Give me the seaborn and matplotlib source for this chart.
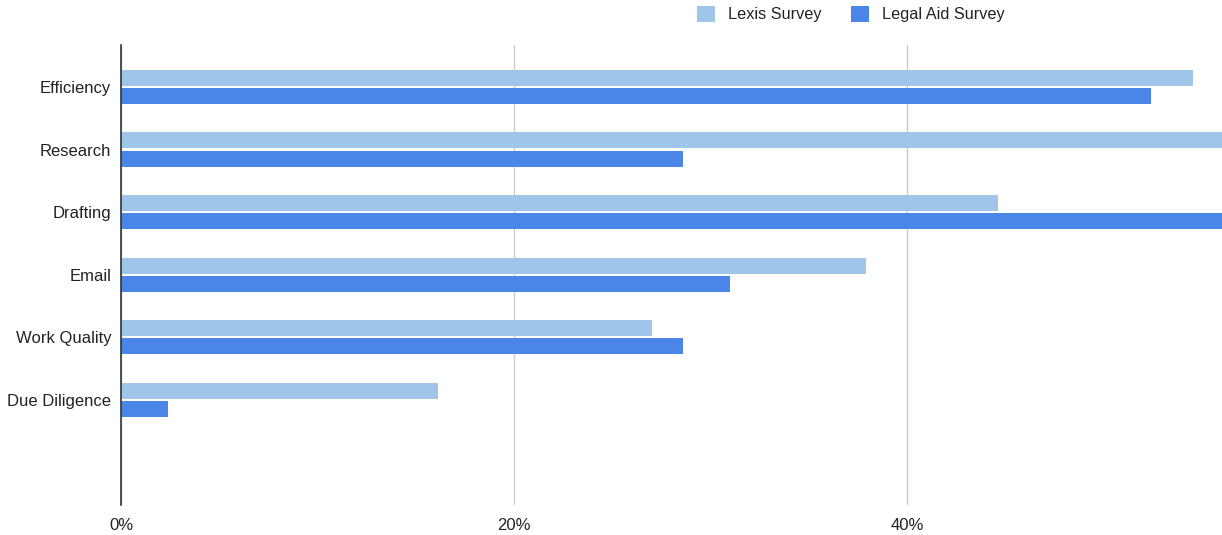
import matplotlib
matplotlib.use("Agg")
import matplotlib.pyplot as plt
import seaborn as sns
import pandas as pd
from matplotlib.ticker import FuncFormatter

categories = ["Efficiency", "Research", "Drafting", "Email", "Work Quality", "Due Diligence"]
lexis = [54.5, 58.0, 44.6, 37.9, 27.0, 16.1]
legal_aid = [52.4, 28.6, 58.0, 31.0, 28.6, 2.4]
series_names = ["Lexis Survey", "Legal Aid Survey"]
colors = ["#9fc5e8", "#4a86e8"]

df = pd.DataFrame({
    "Category": categories * 2,
    "Value": lexis + legal_aid,
    "Survey": [series_names[0]] * len(categories) + [series_names[1]] * len(categories),
})

sns.set_style("white")
plt.rcParams["font.family"] = ["Liberation Sans", "DejaVu Sans"]

fig = plt.figure(figsize=(12.22, 5.35), dpi=100)
ax = fig.add_axes([121 / 1222, 1 - 505 / 535, 1 - 121 / 1222, (505 - 45) / 535])

sns.barplot(data=df, y="Category", x="Value", hue="Survey", orient="h",
            palette=dict(zip(series_names, colors)), width=0.58, gap=0.12,
            saturation=1, ax=ax, legend=True, errorbar=None, linewidth=0)

ax.set_xlim(0, 56)
ax.set_ylim(6.68, -0.67)
ax.set_xticks([0, 20, 40])
ax.xaxis.set_major_formatter(FuncFormatter(lambda v, p: f"{v:.0f}%"))
ax.grid(axis="x", color="#cccccc", linewidth=1)
ax.set_axisbelow(True)
for s in ["top", "right", "bottom"]:
    ax.spines[s].set_visible(False)
ax.spines["left"].set_color("#333333")
ax.spines["left"].set_linewidth(1.2)
ax.set_xlabel("")
ax.set_ylabel("")
ax.tick_params(axis="both", length=0, labelsize=12, colors="#222222")
ax.tick_params(axis="x", pad=9)
ax.tick_params(axis="y", pad=7)

handles, labels = ax.get_legend_handles_labels()
ax.get_legend().remove()
fig.legend(handles, labels, loc="center", bbox_to_anchor=(851 / 1222, 1 - 14 / 535),
           ncol=2, frameon=False, fontsize=11.7, handlelength=1.1, handleheight=1.2,
           columnspacing=1.8, handletextpad=0.8, labelcolor="#222222")

fig.savefig("out.png", dpi=100)
